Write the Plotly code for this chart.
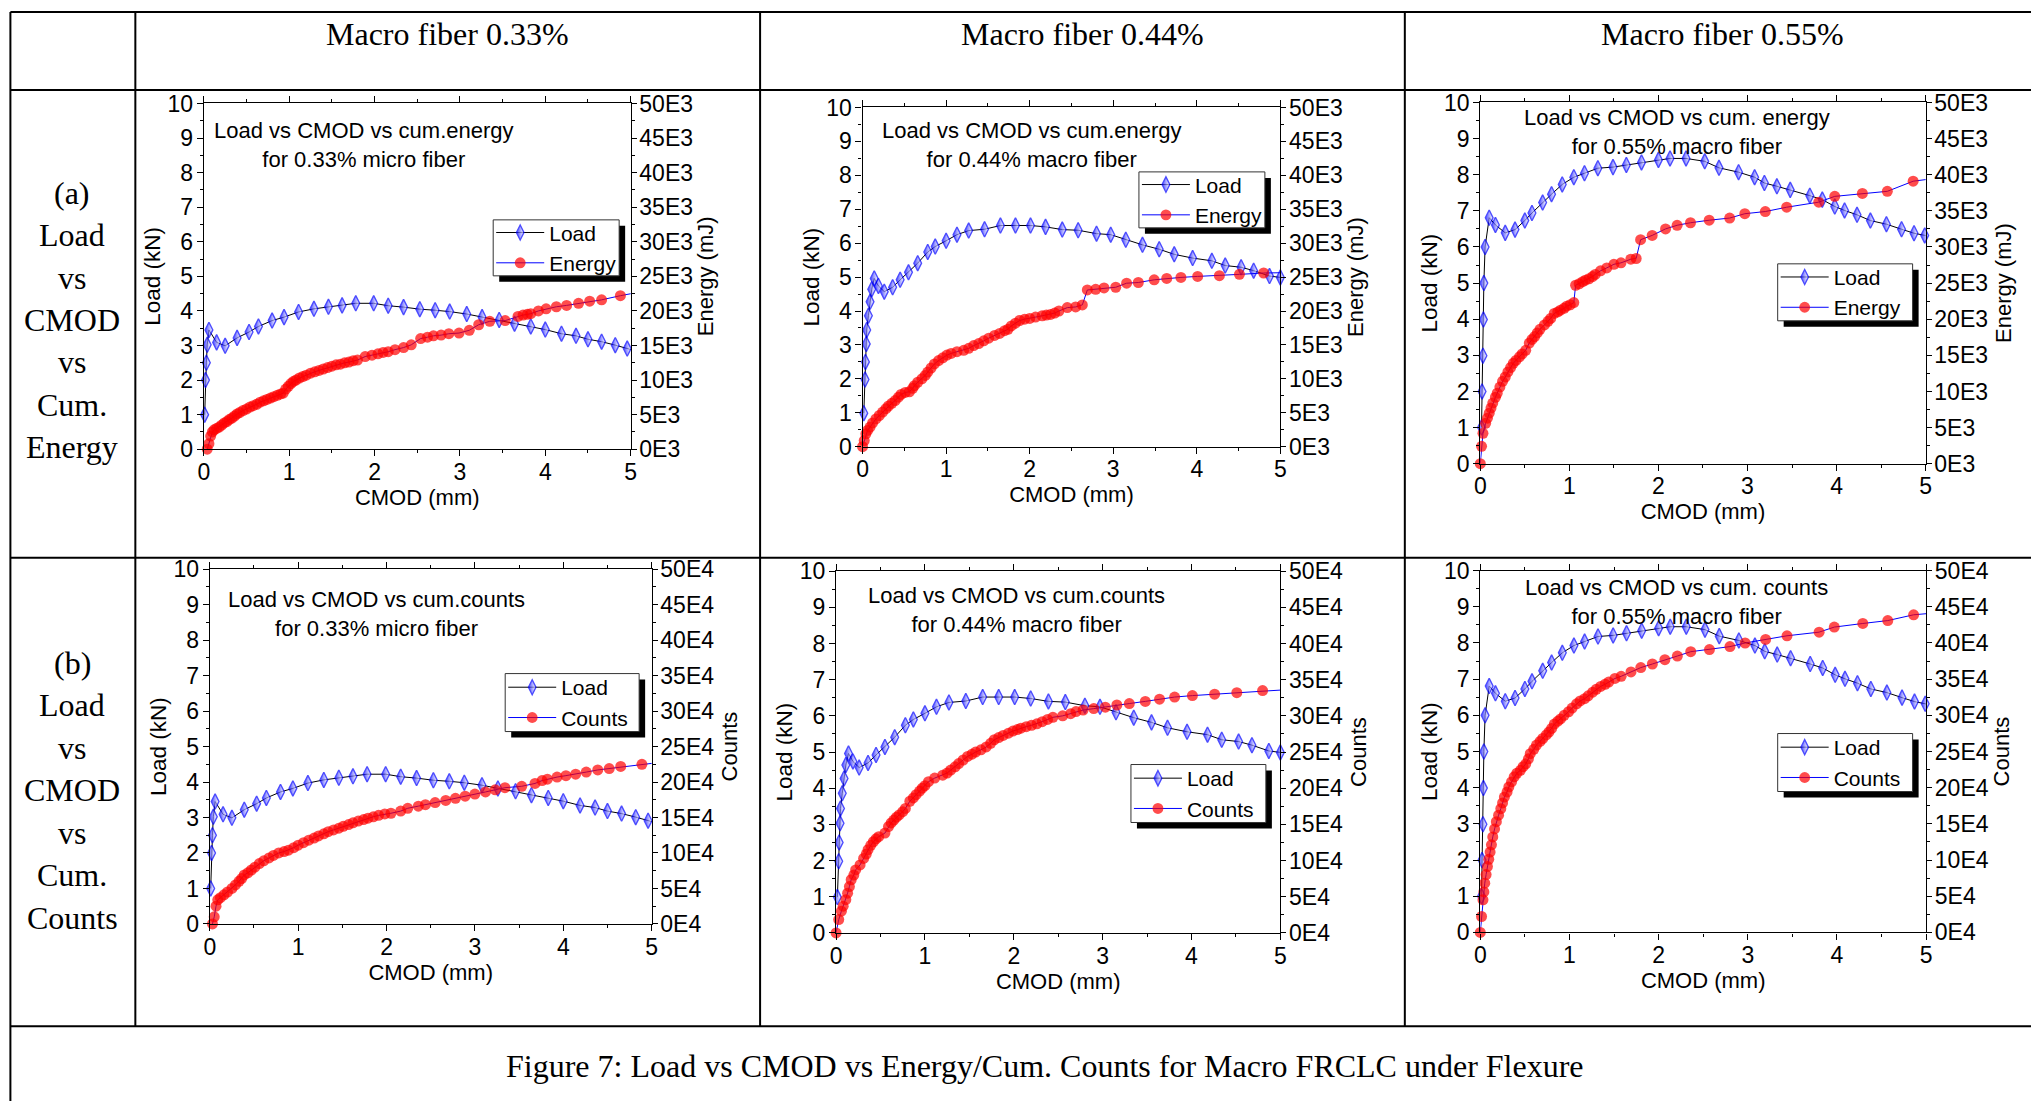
import plotly.graph_objects as go

W, H = 2031, 1101

# ---------------- data ----------------
x_tickvals = [0, 1, 2, 3, 4, 5]
load_tickvals = [0, 1, 2, 3, 4, 5, 6, 7, 8, 9, 10]
energy_tickvals = [0, 5000, 10000, 15000, 20000, 25000, 30000, 35000, 40000, 45000, 50000]
energy_ticktext = ['0E3', '5E3', '10E3', '15E3', '20E3', '25E3', '30E3', '35E3', '40E3', '45E3', '50E3']
counts_tickvals = [0, 50000, 100000, 150000, 200000, 250000, 300000, 350000, 400000, 450000, 500000]
counts_ticktext = ['0E4', '5E4', '10E4', '15E4', '20E4', '25E4', '30E4', '35E4', '40E4', '45E4', '50E4']

col_titles = ['Macro fiber 0.33%', 'Macro fiber 0.44%', 'Macro fiber 0.55%']
row_a_words = ['(a)', 'Load', 'vs', 'CMOD', 'vs', 'Cum.', 'Energy']
row_b_words = ['(b)', 'Load', 'vs', 'CMOD', 'vs', 'Cum.', 'Counts']
caption = 'Figure 7: Load vs CMOD vs Energy/Cum. Counts for Macro FRCLC under Flexure'
panel_notes = [
    'Load vs CMOD vs cum.energy<br>for 0.33% micro fiber',
    'Load vs CMOD vs cum.energy<br>for 0.44% macro fiber',
    'Load vs CMOD vs cum. energy<br>for 0.55% macro fiber',
    'Load vs CMOD vs cum.counts<br>for 0.33% micro fiber',
    'Load vs CMOD vs cum.counts<br>for 0.44% macro fiber',
    'Load vs CMOD vs cum. counts<br>for 0.55% macro fiber',
]

# Load (kN) vs CMOD (mm)
cmod_load_033 = [0.01, 0.02, 0.03, 0.04, 0.06, 0.15, 0.25, 0.39, 0.53, 0.64, 0.80, 0.94, 1.11, 1.29, 1.46,
                 1.62, 1.78, 1.99, 2.16, 2.34, 2.53, 2.71, 2.88, 3.08, 3.26, 3.46, 3.64, 3.83, 4.00, 4.19,
                 4.36, 4.50, 4.66, 4.82, 4.96, 5.05]
load_033 = [1.0, 2.0, 2.5, 3.02, 3.45, 3.09, 2.99, 3.22, 3.39, 3.55, 3.72, 3.82, 3.97, 4.06, 4.12,
            4.16, 4.22, 4.22, 4.15, 4.11, 4.05, 4.02, 3.98, 3.91, 3.82, 3.74, 3.63, 3.55, 3.46, 3.34,
            3.28, 3.18, 3.11, 3.01, 2.91, 2.85]

cmod_load_044 = [0.015, 0.03, 0.035, 0.045, 0.05, 0.07, 0.09, 0.11, 0.14, 0.19, 0.26, 0.36, 0.45, 0.55, 0.66,
                 0.78, 0.87, 1.0, 1.13, 1.27, 1.46, 1.65, 1.83, 2.01, 2.19, 2.39, 2.58, 2.80, 2.97, 3.15,
                 3.35, 3.55, 3.73, 3.95, 4.18, 4.34, 4.53, 4.68, 4.87, 5.0]
load_044 = [0.99, 1.98, 2.5, 3.03, 3.44, 3.86, 4.27, 4.64, 4.96, 4.74, 4.57, 4.70, 4.92, 5.14, 5.41,
            5.74, 5.90, 6.07, 6.25, 6.37, 6.41, 6.52, 6.52, 6.52, 6.48, 6.40, 6.38, 6.28, 6.25, 6.10,
            5.95, 5.82, 5.67, 5.56, 5.48, 5.34, 5.29, 5.19, 5.03, 4.99]

cmod_load_055 = [0.014, 0.02, 0.03, 0.035, 0.04, 0.054, 0.10, 0.17, 0.28, 0.39, 0.50, 0.58, 0.70, 0.80, 0.92,
                 1.05, 1.17, 1.32, 1.49, 1.64, 1.81, 2.0, 2.13, 2.31, 2.52, 2.68, 2.90, 3.08, 3.19, 3.33,
                 3.48, 3.70, 3.84, 3.98, 4.09, 4.23, 4.38, 4.56, 4.73, 4.87, 4.99, 5.05]
load_055 = [1.0, 2.0, 2.99, 3.99, 5.0, 6.0, 6.81, 6.61, 6.39, 6.48, 6.73, 6.94, 7.23, 7.46, 7.73,
            7.93, 8.04, 8.18, 8.21, 8.27, 8.34, 8.41, 8.45, 8.45, 8.37, 8.19, 8.07, 7.93, 7.77, 7.68,
            7.58, 7.42, 7.31, 7.12, 7.01, 6.89, 6.73, 6.63, 6.49, 6.38, 6.32, 6.28]

# Cumulative energy (mJ) vs CMOD (mm)
cmod_energy_033 = [0.04, 0.06, 0.08, 0.10, 0.12, 0.15, 0.18, 0.21, 0.24, 0.27, 0.30, 0.33, 0.36, 0.39, 0.42,
                   0.46, 0.50, 0.54, 0.58, 0.62, 0.66, 0.70, 0.74, 0.78, 0.82, 0.86, 0.90, 0.93, 0.96, 0.99,
                   1.02, 1.05, 1.08, 1.12, 1.16, 1.20, 1.25, 1.30, 1.35, 1.40, 1.45, 1.50, 1.55, 1.60, 1.65,
                   1.70, 1.75, 1.80, 1.89, 1.97, 2.04, 2.10, 2.16, 2.24, 2.34, 2.43, 2.54, 2.62, 2.69, 2.78,
                   2.87, 2.99, 3.11, 3.22, 3.35, 3.53, 3.68, 3.74, 3.79, 3.83, 3.92, 4.01, 4.13, 4.25, 4.39,
                   4.52, 4.66, 4.88, 5.05]
energy_033 = [0, 800, 1900, 2500, 2800, 3000, 3200, 3500, 3800, 4000, 4300, 4500, 4800, 5100, 5300,
              5600, 5800, 6100, 6300, 6500, 6800, 7000, 7200, 7400, 7600, 7800, 8000, 8100, 8700, 9100,
              9500, 9800, 10000, 10300, 10500, 10700, 11000, 11200, 11400, 11600, 11800, 12000, 12200, 12300, 12500,
              12600, 12800, 12900, 13400, 13600, 13800, 14000, 14100, 14400, 14700, 15100, 16000, 16200, 16400, 16500,
              16700, 16800, 17200, 18000, 18500, 18600, 19200, 19400, 19500, 19600, 20000, 20300, 20600, 20800, 21100,
              21400, 21600, 22200, 22600]

cmod_energy_044 = [0.0, 0.02, 0.04, 0.06, 0.09, 0.12, 0.16, 0.20, 0.24, 0.28, 0.31, 0.35, 0.39, 0.43, 0.46,
                   0.51, 0.56, 0.60, 0.62, 0.66, 0.71, 0.75, 0.78, 0.82, 0.86, 0.91, 0.96, 1.01, 1.06, 1.13,
                   1.21, 1.27, 1.33, 1.39, 1.45, 1.51, 1.58, 1.64, 1.70, 1.74, 1.78, 1.83, 1.88, 1.94, 2.00,
                   2.07, 2.15, 2.20, 2.25, 2.30, 2.35, 2.45, 2.55, 2.63, 2.69, 2.79, 2.89, 3.03, 3.16, 3.30,
                   3.49, 3.64, 3.81, 4.01, 4.27, 4.51, 4.80, 5.05]
energy_044 = [0, 900, 1900, 2400, 2900, 3500, 4100, 4600, 5100, 5600, 6000, 6400, 6800, 7300, 7700,
              8000, 8100, 8600, 9000, 9500, 10000, 10500, 11000, 11600, 12200, 12700, 13100, 13500, 13750, 14000,
              14200, 14500, 14900, 15200, 15600, 16000, 16400, 16700, 17100, 17300, 17800, 18200, 18600, 18800, 18900,
              19100, 19300, 19400, 19500, 19700, 20000, 20500, 20600, 20900, 23100, 23200, 23400, 23500, 24100, 24200,
              24600, 24800, 24950, 25100, 25200, 25400, 25600, 25650]

cmod_energy_055 = [0.0, 0.014, 0.03, 0.06, 0.08, 0.10, 0.12, 0.14, 0.17, 0.19, 0.22, 0.25, 0.28, 0.31, 0.34,
                   0.37, 0.40, 0.44, 0.47, 0.51, 0.55, 0.58, 0.61, 0.64, 0.67, 0.72, 0.76, 0.79, 0.83, 0.87,
                   0.90, 0.94, 0.97, 1.01, 1.05, 1.07, 1.11, 1.15, 1.18, 1.22, 1.26, 1.29, 1.35, 1.42, 1.50,
                   1.58, 1.69, 1.75, 1.80, 1.93, 2.08, 2.21, 2.36, 2.57, 2.80, 2.97, 3.20, 3.44, 3.80, 3.98,
                   4.29, 4.57, 4.86, 5.05]
energy_055 = [0, 2400, 4200, 5600, 6300, 7000, 7700, 8400, 9200, 9750, 10600, 11400, 12000, 12700, 13300,
              13900, 14300, 14800, 15200, 15700, 16700, 17200, 17600, 18100, 18600, 19200, 19700, 20100, 20800, 21000,
              21250, 21500, 21800, 22000, 22300, 24700, 24900, 25200, 25400, 25600, 25900, 26200, 26700, 27100, 27600,
              27800, 28300, 28400, 31000, 31600, 32500, 33000, 33350, 33700, 34000, 34600, 34900, 35500, 36200, 37000,
              37400, 37700, 39100, 39400]

# Cumulative AE counts vs CMOD (mm)
cmod_counts_033 = [0.03, 0.05, 0.07, 0.09, 0.12, 0.16, 0.20, 0.25, 0.29, 0.33, 0.36, 0.39, 0.43, 0.47, 0.51,
                   0.56, 0.61, 0.67, 0.72, 0.78, 0.84, 0.89, 0.95, 1.0, 1.06, 1.12, 1.18, 1.23, 1.29, 1.34,
                   1.40, 1.46, 1.51, 1.57, 1.62, 1.68, 1.74, 1.79, 1.85, 1.91, 1.98, 2.05, 2.16, 2.24, 2.36,
                   2.44, 2.55, 2.67, 2.78, 2.89, 3.0, 3.12, 3.23, 3.34, 3.53, 3.68, 3.76, 3.82, 3.93, 4.03,
                   4.14, 4.26, 4.39, 4.52, 4.65, 4.89, 5.05]
counts_033 = [0, 10000, 25000, 34000, 37000, 41000, 45000, 50000, 55000, 60000, 64000, 69000, 72000, 76000, 80000,
              85000, 89000, 93000, 96500, 100000, 102000, 104000, 107500, 111000, 114500, 118000, 121000, 124000, 127000, 130000,
              132500, 135000, 137500, 140000, 142500, 145000, 147000, 149000, 151000, 153000, 155000, 156000, 159000, 163000, 166000,
              168000, 171000, 174000, 177000, 180000, 183000, 186000, 189000, 192000, 194000, 198000, 202000, 204000, 207000, 209000,
              211000, 214000, 217000, 219000, 222000, 225000, 227000]

cmod_counts_044 = [0.0, 0.03, 0.06, 0.08, 0.11, 0.13, 0.15, 0.17, 0.20, 0.22, 0.27, 0.31, 0.34, 0.36, 0.39,
                   0.42, 0.45, 0.48, 0.55, 0.59, 0.62, 0.65, 0.68, 0.71, 0.75, 0.78, 0.83, 0.87, 0.90, 0.94,
                   0.97, 1.00, 1.04, 1.11, 1.20, 1.25, 1.29, 1.34, 1.38, 1.43, 1.48, 1.53, 1.57, 1.63, 1.69,
                   1.74, 1.78, 1.83, 1.88, 1.94, 1.99, 2.04, 2.08, 2.14, 2.20, 2.26, 2.32, 2.38, 2.44, 2.55,
                   2.64, 2.70, 2.78, 2.90, 3.03, 3.16, 3.30, 3.48, 3.64, 3.81, 4.01, 4.26, 4.51, 4.80, 5.05]
counts_044 = [0, 18400, 30000, 37000, 46000, 55000, 64000, 73500, 80000, 87000, 94000, 103000, 109000, 115000, 121000,
              126000, 130000, 133000, 138000, 147000, 152000, 156000, 160000, 163000, 167500, 172000, 182000, 186500, 191000, 196000,
              200000, 203500, 209000, 214000, 218000, 221000, 225000, 229500, 234000, 239000, 244000, 247000, 250000, 253000, 257000,
              262000, 267000, 270000, 273000, 276000, 279000, 281000, 283000, 285000, 287000, 289000, 292000, 295000, 298000, 300000,
              303000, 306000, 308000, 310000, 312000, 315000, 317000, 320000, 323000, 326000, 328000, 330000, 332000, 335000, 336000]

cmod_counts_055 = [0.0, 0.014, 0.03, 0.04, 0.05, 0.065, 0.08, 0.095, 0.11, 0.125, 0.14, 0.16, 0.18, 0.205, 0.23,
                   0.25, 0.27, 0.30, 0.32, 0.35, 0.38, 0.41, 0.45, 0.48, 0.51, 0.54, 0.56, 0.60, 0.63, 0.67,
                   0.70, 0.74, 0.77, 0.80, 0.83, 0.87, 0.90, 0.94, 0.99, 1.03, 1.08, 1.12, 1.17, 1.21, 1.26,
                   1.30, 1.35, 1.40, 1.44, 1.51, 1.58, 1.69, 1.80, 1.93, 2.07, 2.21, 2.36, 2.57, 2.80, 2.97,
                   3.20, 3.44, 3.80, 3.97, 4.29, 4.57, 4.86, 5.05]
counts_055 = [0, 22000, 45000, 56000, 68000, 80000, 91000, 101000, 111000, 121000, 132000, 143000, 153000, 162000, 171000,
              179000, 187000, 194000, 201000, 208000, 215000, 220000, 224000, 229000, 233000, 240000, 247000, 253000, 259000, 264000,
              268000, 273000, 277000, 282000, 288000, 292000, 295000, 300000, 305000, 310000, 316000, 320000, 323000, 327000, 332000,
              336000, 340000, 343000, 346000, 351000, 354000, 360000, 366000, 371000, 377000, 382000, 388000, 391000, 395000, 400000,
              405000, 410000, 415000, 422000, 427000, 431000, 439000, 441000]

# ---------------- layout helpers (screen pixels -> paper) ----------------
# the photographed page maps figure pixels slightly inward; compensate so that
# positions given below land on the intended screen pixels
SX, OX = 0.9945, 5.6
SY, OY = 0.977, 12.0


def px(x):
    return ((x - OX) / SX) / W


def py(y):
    return 1 - ((y - OY) / SY) / H


SANS = 'Arial, Liberation Sans, sans-serif'
SERIF = 'Times New Roman, Liberation Serif, serif'

panels = [
    dict(box=(203.5, 630.5, 102.5, 448.5), lx=cmod_load_033, ly=load_033, ex=cmod_energy_033, ey=energy_033,
         name2='Energy', title2='Energy (mJ)', tv=energy_tickvals, tt=energy_ticktext, rng2=50000, step2=2500,
         note=(364, 144.5), leg=(493, 219, 619, 275), so2=0),
    dict(box=(862.5, 1280.5, 106.5, 446), lx=cmod_load_044, ly=load_044, ex=cmod_energy_044, ey=energy_044,
         name2='Energy', title2='Energy (mJ)', tv=energy_tickvals, tt=energy_ticktext, rng2=50000, step2=2500,
         note=(1032, 144), leg=(1139, 171, 1265, 227), so2=1),
    dict(box=(1480.5, 1926, 101.5, 463), lx=cmod_load_055, ly=load_055, ex=cmod_energy_055, ey=energy_055,
         name2='Energy', title2='Energy (mJ)', tv=energy_tickvals, tt=energy_ticktext, rng2=50000, step2=2500,
         note=(1677, 131.5), leg=(1778, 263, 1913, 320), so2=8),
    dict(box=(209.5, 651.5, 568.5, 923.5), lx=cmod_load_033, ly=load_033, ex=cmod_counts_033, ey=counts_033,
         name2='Counts', title2='Counts', tv=counts_tickvals, tt=counts_ticktext, rng2=500000, step2=25000,
         note=(376, 613), leg=(505, 673, 639, 731), so2=8),
    dict(box=(836, 1280.5, 570.5, 932.5), lx=cmod_load_044, ly=load_044, ex=cmod_counts_044, ey=counts_044,
         name2='Counts', title2='Counts', tv=counts_tickvals, tt=counts_ticktext, rng2=500000, step2=25000,
         note=(1017, 609.5), leg=(1131, 764, 1266, 822), so2=8),
    dict(box=(1480.5, 1926.5, 570, 932), lx=cmod_load_055, ly=load_055, ex=cmod_counts_055, ey=counts_055,
         name2='Counts', title2='Counts', tv=counts_tickvals, tt=counts_ticktext, rng2=500000, step2=25000,
         note=(1677, 601), leg=(1778, 733, 1913, 791), so2=4),
]

fig = go.Figure()
layout = dict(width=W, height=H, margin=dict(l=0, r=0, t=0, b=0), paper_bgcolor='white',
              plot_bgcolor='rgba(0,0,0,0)', showlegend=True, font=dict(family=SANS, color='black', size=21))
annotations = []
shapes = []

for i, p in enumerate(panels):
    k = i + 1
    xa = 'x' if k == 1 else 'x%d' % k
    xkey = 'xaxis' if k == 1 else 'xaxis%d' % k
    yl = 2 * k - 1
    yr = 2 * k
    yl_name = 'y' if yl == 1 else 'y%d' % yl
    yl_key = 'yaxis' if yl == 1 else 'yaxis%d' % yl
    yr_name = 'y%d' % yr
    yr_key = 'yaxis%d' % yr
    leg = 'legend' if k == 1 else 'legend%d' % k

    x0, x1, y0, y1 = p['box']
    s1 = [11 if xv <= 5 else 0 for xv in p['lx']]
    s2 = [11 if xv <= 5 else 0 for xv in p['ex']]

    fig.add_trace(go.Scatter(
        x=p['lx'], y=p['ly'], name='Load', xaxis=xa, yaxis=yl_name, legend=leg,
        mode='lines+markers', cliponaxis=False,
        line=dict(color='black', width=1),
        marker=dict(symbol='diamond-tall', size=s1, color='#0000ff',
                    gradient=dict(type='horizontal', color='white'),
                    line=dict(color='#0000ff', width=1.4))))
    fig.add_trace(go.Scatter(
        x=p['ex'], y=p['ey'], name=p['name2'], xaxis=xa, yaxis=yr_name, legend=leg,
        mode='lines+markers', cliponaxis=False,
        line=dict(color='#0000ff', width=1),
        marker=dict(symbol='circle', size=s2, color='#ff0000', line=dict(width=0))))

    common = dict(showline=True, linecolor='black', linewidth=1.2, ticks='outside', tickcolor='black',
                  tickwidth=1.2, showgrid=False, zeroline=False, tickfont=dict(family=SANS, size=23, color='black'))
    layout[xkey] = dict(common, domain=[px(x0), px(x1)], anchor=yl_name, range=[0, 5], tickvals=x_tickvals,
                        ticklen=6, mirror='ticks', ticklabelstandoff=-4,
                        minor=dict(ticks='outside', ticklen=3, dtick=0.5, tickcolor='black', showgrid=False),
                        title=dict(text='CMOD (mm)', standoff=0, font=dict(size=22)))
    layout[yl_key] = dict(common, domain=[py(y1), py(y0)], anchor=xa, range=[0, 10], tickvals=load_tickvals,
                          ticklen=6, ticklabelstandoff=-1,
                          minor=dict(ticks='outside', ticklen=3, dtick=0.5, tickcolor='black', showgrid=False),
                          title=dict(text='Load (kN)', standoff=0, font=dict(size=22.5)))
    layout[yr_key] = dict(common, overlaying=yl_name, side='right', anchor=xa, range=[0, p['rng2']],
                          tickvals=p['tv'], ticktext=p['tt'], ticklen=5, ticklabelstandoff=-2,
                          minor=dict(ticks='outside', ticklen=3, dtick=p['step2'], tickcolor='black', showgrid=False),
                          title=dict(text=p['title2'], standoff=p['so2'], font=dict(size=22)))

    lx0, ly0, lx1, ly1 = p['leg']
    # drop shadow and white frame behind the legend
    shapes.append(dict(type='rect', xref='paper', yref='paper', layer='above',
                       x0=px(lx0 + 6), x1=px(lx1 + 6), y0=py(ly0 + 6), y1=py(ly1 + 6),
                       fillcolor='black', line=dict(width=0)))
    shapes.append(dict(type='rect', xref='paper', yref='paper', layer='above',
                       x0=px(lx0), x1=px(lx1), y0=py(ly0), y1=py(ly1),
                       fillcolor='white', line=dict(color='#333333', width=1)))
    layout[leg] = dict(x=px(lx0 - 2), y=py((ly0 + ly1) / 2), xanchor='left', yanchor='middle',
                       bgcolor='rgba(0,0,0,0)', borderwidth=0,
                       font=dict(family=SANS, size=21, color='black'),
                       itemwidth=48, tracegroupgap=0)

    nx, ny = p['note']
    annotations.append(dict(xref='paper', yref='paper', x=px(nx), y=py(ny), text=panel_notes[i],
                            showarrow=False, xanchor='center', yanchor='middle', align='center',
                            font=dict(family=SANS, size=22, color='black')))

# column headers
for cx, t in zip([447.5, 1082.5, 1723], col_titles):
    annotations.append(dict(xref='paper', yref='paper', x=px(cx), y=py(33), text=t, showarrow=False,
                            xanchor='center', yanchor='middle', font=dict(family=SERIF, size=32)))

# row labels
for j, wd in enumerate(row_a_words):
    annotations.append(dict(xref='paper', yref='paper', x=px(72), y=py(192 + 42.4 * j), text=wd,
                            showarrow=False, xanchor='center', yanchor='middle',
                            font=dict(family=SERIF, size=32)))
for j, wd in enumerate(row_b_words):
    annotations.append(dict(xref='paper', yref='paper', x=px(72), y=py(662 + 42.6 * j), text=wd,
                            showarrow=False, xanchor='center', yanchor='middle',
                            font=dict(family=SERIF, size=32)))

annotations.append(dict(xref='paper', yref='paper', x=px(1045), y=py(1066), text=caption, showarrow=False,
                        xanchor='center', yanchor='middle', font=dict(family=SERIF, size=32)))


# table rules
def hline(y, x0=10, x1=2040, w=2):
    shapes.append(dict(type='line', xref='paper', yref='paper', x0=px(x0), x1=px(x1), y0=py(y), y1=py(y),
                       line=dict(color='black', width=w), layer='below'))


def vline(x, y0, y1, w=2):
    shapes.append(dict(type='line', xref='paper', yref='paper', x0=px(x), x1=px(x), y0=py(y0), y1=py(y1),
                       line=dict(color='black', width=w), layer='below'))


hline(11)
hline(89)
hline(557)
hline(1026)
vline(10, 11, 1110)
vline(135, 11, 1026)
vline(760, 11, 1026)
vline(1405, 11, 1026)

layout['annotations'] = annotations
layout['shapes'] = shapes
fig.update_layout(**layout)

fig.write_html('out.html')
